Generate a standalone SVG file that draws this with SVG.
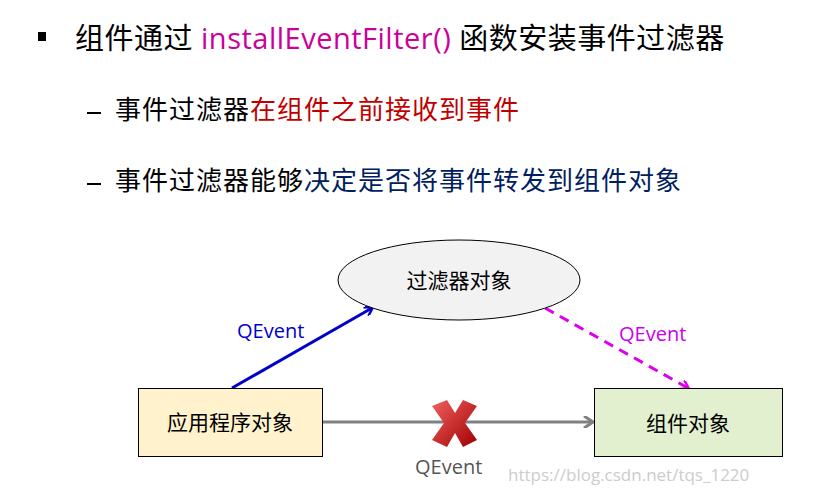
<svg xmlns="http://www.w3.org/2000/svg" width="821" height="496" viewBox="0 0 821 496">
<style>
text{font-family:"Open Sans","Noto Sans CJK SC",sans-serif;}
.n{font-size:21px;fill:#000;}
.q{font-size:20px;}
</style>
<defs>
<marker id="ab" markerWidth="10" markerHeight="10" refX="8" refY="5" orient="auto" markerUnits="userSpaceOnUse"><path d="M1,0 L9,5 L1,10" fill="none" stroke="#0000cc" stroke-width="2.5"/></marker>
<marker id="ap" markerWidth="10" markerHeight="10" refX="8" refY="5" orient="auto" markerUnits="userSpaceOnUse"><path d="M1,0 L9,5 L1,10" fill="none" stroke="#dd00ee" stroke-width="2.5"/></marker>
<marker id="ag" markerWidth="12" markerHeight="12" refX="10" refY="6" orient="auto" markerUnits="userSpaceOnUse"><path d="M1,0 L10,6 L1,12" fill="none" stroke="#808080" stroke-width="3"/></marker>
<linearGradient id="xg" x1="0" y1="0" x2="1" y2="1"><stop offset="0" stop-color="#f06060"/><stop offset="1" stop-color="#a00000"/></linearGradient>
</defs>
<rect width="821" height="496" fill="#fff"/>
<rect x="38" y="32" width="8" height="9" fill="#000"/>
<text x="75" y="49" font-size="29" letter-spacing="0.5" fill="#000">组件通过 <tspan fill="#cc0099">installEventFilter()</tspan> 函数安装事件过滤器</text>
<rect x="87" y="112" width="14" height="2" fill="#000"/>
<text x="115" y="119" font-size="26" letter-spacing="1" fill="#000">事件过滤器<tspan fill="#c00000">在组件之前接收到事件</tspan></text>
<rect x="87" y="183" width="14" height="2" fill="#000"/>
<text x="115" y="190" font-size="26" letter-spacing="1" fill="#000">事件过滤器能够<tspan fill="#002060">决定是否将事件转发到组件对象</tspan></text>
<g id="connectors">
<line x1="232" y1="388" x2="372" y2="308" stroke="#0000cc" stroke-width="3" marker-end="url(#ab)"/>
<line x1="545" y1="308" x2="688" y2="388" stroke="#dd00ee" stroke-width="3" stroke-dasharray="10,7" marker-end="url(#ap)"/>
<line x1="322" y1="422" x2="593" y2="422" stroke="#808080" stroke-width="3" marker-end="url(#ag)"/>
<text x="237" y="338" class="q" fill="#0000cc">QEvent</text>
<text x="619" y="341" class="q" fill="#cc00ee">QEvent</text>
<text x="415" y="474" class="q" fill="#555">QEvent</text>
<g id="cross">
<path d="M432,406 L447,400 L455,413 L463,400 L477,406 L465,423 L477,440 L463,447 L455,433 L447,447 L432,440 L444,423 Z" fill="url(#xg)"/>
</g>
</g>
<g id="filter">
<ellipse cx="459" cy="280" rx="121" ry="40" fill="#f2f2f2" stroke="#000" stroke-width="1"/>
<text x="459" y="288" class="n" text-anchor="middle">过滤器对象</text>
</g>
<g id="app">
<rect x="138.5" y="388.5" width="184" height="68" fill="#fff2cc" stroke="#000"/>
<text x="230" y="430" class="n" text-anchor="middle">应用程序对象</text>
</g>
<g id="widget">
<rect x="594.5" y="388.5" width="188" height="68" fill="#e2f0d0" stroke="#000"/>
<text x="688" y="431" class="n" text-anchor="middle">组件对象</text>
</g>
<text x="508" y="481" font-size="17" fill="#cccccc" font-family="Liberation Mono,monospace">https://blog.csdn.net/tqs_1220</text>
</svg>
